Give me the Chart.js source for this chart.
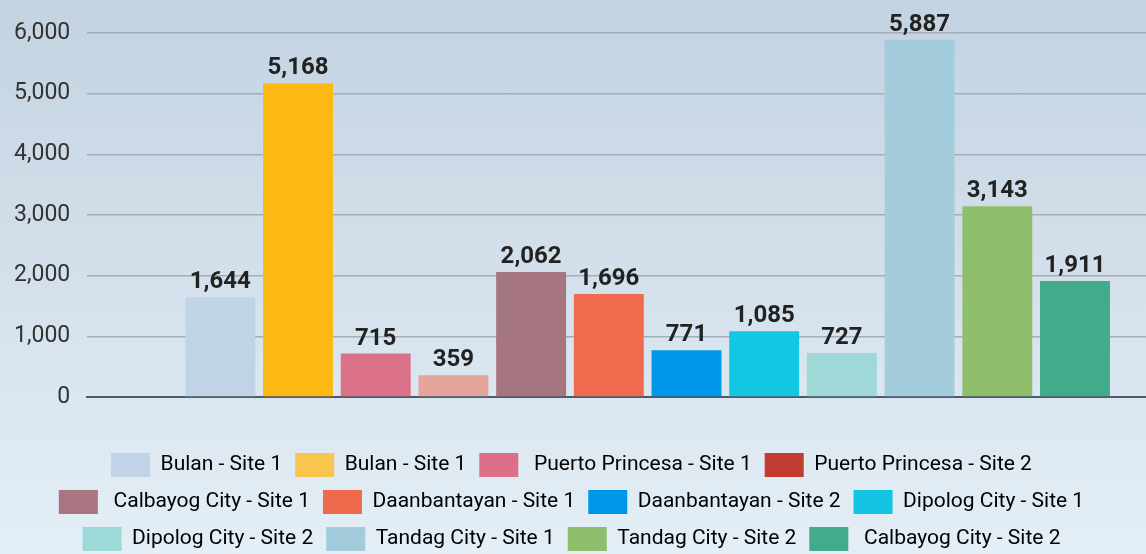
<!DOCTYPE html>
<html lang="en">
<head>
<meta charset="UTF-8">
<title>Site Totals</title>
<script src="https://cdn.jsdelivr.net/npm/chart.js"></script>
<style>
  html, body { margin: 0; padding: 0; }
  body { width: 1146px; height: 554px; background: linear-gradient(to bottom, #c3d3e1, #e4eef6); font-family: Roboto, sans-serif; }
  #wrap { width: 1146px; height: 554px; }
</style>
</head>
<body>
<div id="wrap"><canvas id="siteChart"></canvas></div>
<script>
// data
var sites = ["Bulan - Site 1", "Bulan - Site 1", " Puerto Princesa - Site 1", "Puerto Princesa - Site 2",
             " Calbayog City - Site 1", "Daanbantayan - Site 1", "Daanbantayan - Site 2", "Dipolog City - Site 1",
             "Dipolog City - Site 2", "Tandag City - Site 1", "Tandag City - Site 2", " Calbayog City - Site 2"];
var totals = [1644, 5168, 715, 359, 2062, 1696, 771, 1085, 727, 5887, 3143, 1911];
var yMin = 0, yMax = 6000, yStep = 1000;

var barColors = ["#c0d3e7", "#fcb914", "#dc728a", "#e4a59c", "#a67680", "#ef6b4e",
                 "#0096ea", "#12c7e2", "#9ed9d7", "#a3ccdd", "#8fbf6d", "#43aa8b"];
var legendColors = ["#c0d3e8", "#f8c54f", "#dc6f8a", "#c23b30", "#a87580", "#ef6a4c",
                    "#0096e8", "#12c4e2", "#9dd9d6", "#a2cbdc", "#8fbe6d", "#43aa8b"];

var datasets = sites.map(function(name, i) {
    return {
        label: name,
        data: [{ x: i, y: totals[i] }],
        backgroundColor: barColors[i],
        borderWidth: 0
    };
});

// bold numbers above each bar
var valueLabels = {
    id: 'valueLabels',
    afterDatasetsDraw: function(chart) {
        var ctx = chart.ctx;
        ctx.save();
        ctx.font = 'bold 24px Roboto';
        ctx.fillStyle = '#222222';
        ctx.textAlign = 'center';
        ctx.textBaseline = 'alphabetic';
        chart.data.datasets.forEach(function(ds, i) {
            chart.getDatasetMeta(i).data.forEach(function(bar) {
                ctx.fillText(totals[i].toLocaleString('en-US'), bar.x, bar.y - 9);
            });
        });
        ctx.restore();
    }
};

var ctx = document.getElementById('siteChart').getContext('2d');
var siteChart = new Chart(ctx, {
    type: 'bar',
    data: { datasets: datasets },
    plugins: [valueLabels],
    options: {
        responsive: true,
        maintainAspectRatio: false,
        animation: false,
        layout: { padding: { top: 33, left: -3, right: 0, bottom: -7 } },
        datasets: { bar: { grouped: false, categoryPercentage: 1, barPercentage: 0.9 } },
        scales: {
            x: {
                type: 'linear',
                offset: false,
                min: -1.713,
                max: 11.914,
                ticks: { display: false },
                grid: { display: false },
                border: { display: true, color: '#4b5b6b', width: 2 },
                afterFit: function(scale) { scale.height = 43; }
            },
            y: {
                min: yMin,
                max: yMax,
                ticks: { stepSize: yStep, padding: 17, color: '#333333', font: { family: 'Roboto', size: 23 } },
                grid: { color: '#a3adb8', lineWidth: 1.5, drawTicks: false },
                border: { display: false }
            }
        },
        plugins: {
            tooltip: { enabled: false },
            legend: {
                position: 'bottom',
                labels: {
                    boxWidth: 39,
                    boxHeight: 24,
                    padding: 13,
                    color: '#333333',
                    font: { family: 'Roboto', size: 21 },
                    generateLabels: function(chart) {
                        return chart.data.datasets.map(function(ds, i) {
                            return { text: ds.label, fillStyle: legendColors[i], strokeStyle: legendColors[i],
                                     lineWidth: 0, datasetIndex: i, hidden: false };
                        });
                    }
                }
            }
        }
    }
});
</script>
</body>
</html>
